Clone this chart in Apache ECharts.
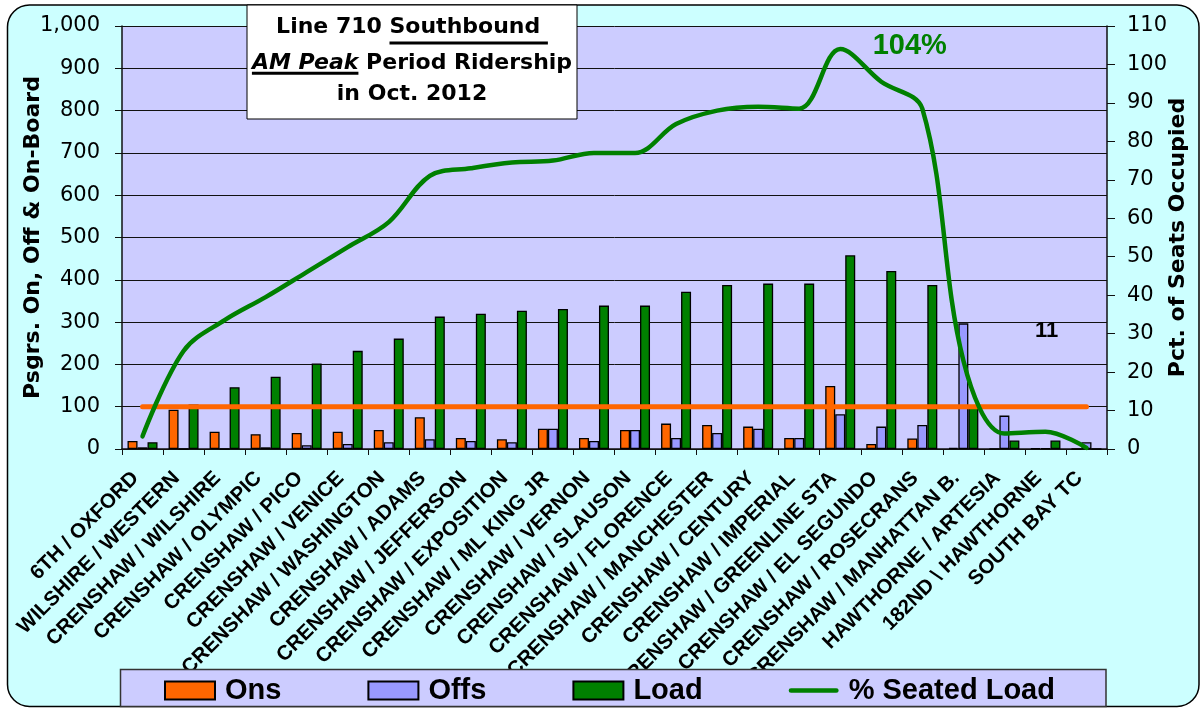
<!DOCTYPE html>
<html><head><meta charset="utf-8">
<script src="https://cdn.jsdelivr.net/npm/echarts/dist/echarts.min.js"></script>
<style>html,body{margin:0;padding:0;background:#fff}#c{width:1200px;height:708px}</style>
</head><body><div id="c"></div>
<script>
// ---------- data ----------
const categories = ['6TH / OXFORD','WILSHIRE / WESTERN','CRENSHAW / WILSHIRE','CRENSHAW / OLYMPIC','CRENSHAW / PICO','CRENSHAW / VENICE','CRENSHAW / WASHINGTON','CRENSHAW / ADAMS','CRENSHAW / JEFFERSON','CRENSHAW / EXPOSITION','CRENSHAW / ML KING JR','CRENSHAW / VERNON','CRENSHAW / SLAUSON','CRENSHAW / FLORENCE','CRENSHAW / MANCHESTER','CRENSHAW / CENTURY','CRENSHAW / IMPERIAL','CRENSHAW / GREENLINE STA','CRENSHAW / EL SEGUNDO','CRENSHAW / ROSECRANS','CRENSHAW / MANHATTAN B.','HAWTHORNE / ARTESIA','182ND \\ HAWTHORNE','SOUTH BAY TC'];
const ons  = [19, 93, 41, 35, 38, 41, 45, 75, 26, 23, 48, 26, 45, 60, 57, 53, 26, 149, 12, 25, 3, 0, 2, 0];
const offs = [4, 0, 0, 4, 9, 12, 16, 23, 19, 16, 48, 19, 45, 26, 38, 48, 26, 82, 53, 57, 297, 79, 2, 16];
const load = [16, 105, 146, 171, 202, 232, 261, 313, 320, 327, 331, 339, 339, 372, 388, 391, 391, 458, 421, 388, 100, 20, 20, 0];
const pctSeated = [3.3, 25.5, 33.5, 39.5, 46, 52.5, 59, 71, 73, 74.5, 75, 77, 77, 84.5, 88, 89, 88.5, 104, 95.5, 88.5, 23, 4, 4.5, 0.3];
const seatedCapacity = [100,100,100,100,100,100,100,100,100,100,100,100,100,100,100,100,100,100,100,100,100,100,100,100];
const leftAxis = {min: 0, max: 1000, interval: 100};
const rightAxis = {min: 0, max: 110, interval: 10};
const titleLines = [
  [{t: 'Line 710 '}, {t: 'Southbound ', u: true}],
  [{t: 'AM Peak', i: true, u: true}, {t: ' Period Ridership'}],
  [{t: 'in Oct. 2012'}]
];
const tripsNote = '11';

// ---------- helpers ----------
const mctx = document.createElement('canvas').getContext('2d');
const TF = 'bold 22px "DejaVu Sans"';
const TFI = 'italic bold 22px "DejaVu Sans"';
function tw(text, font) { mctx.font = font; return mctx.measureText(text).width; }

const titleBaselines = [35, 70.7, 101.7];
const underlineOffsets = [8, 2.5, 0];
const titleCx = 412;
const graphics = [];
// outer frame
graphics.push({type: 'rect', z: -10, shape: {x: 7.5, y: 5, width: 1191.5, height: 701.5, r: 22},
  style: {fill: '#CCFFFF', stroke: '#000', lineWidth: 1.5}, silent: true});
// title box
graphics.push({type: 'rect', z: 20, shape: {x: 247, y: 5, width: 330, height: 114},
  style: {fill: '#fff', stroke: '#000', lineWidth: 1}, silent: true});
titleLines.forEach((pieces, li) => {
  const widths = pieces.map(p => tw(p.t, p.i ? TFI : TF));
  const total = widths.reduce((a, b) => a + b, 0);
  let x = titleCx - total / 2;
  const base = titleBaselines[li];
  pieces.forEach((p, k) => {
    graphics.push({type: 'text', z: 21, silent: true,
      style: {x: x, y: base - 7.5, text: p.t, font: p.i ? TFI : TF, fill: '#000',
        align: 'left', verticalAlign: 'middle', textAlign: 'left', textVerticalAlign: 'middle'}});
    if (p.u) {
      graphics.push({type: 'line', z: 21, silent: true,
        shape: {x1: x, y1: base + underlineOffsets[li], x2: x + widths[k], y2: base + underlineOffsets[li]},
        style: {stroke: '#000', lineWidth: 3}});
    }
    x += widths[k];
  });
});
// note "11"
graphics.push({type: 'text', z: 21, silent: true,
  style: {x: 1035, y: 330.5, text: tripsNote, font: 'bold 22px "Liberation Sans"', fill: '#000',
    align: 'left', verticalAlign: 'middle', textAlign: 'left', textVerticalAlign: 'middle'}});
// legend box
graphics.push({type: 'rect', z: 30, shape: {x: 120.5, y: 669.5, width: 985.5, height: 37},
  style: {fill: '#CCCCFF', stroke: '#333', lineWidth: 1.5}, silent: true});

const chart = echarts.init(document.getElementById('c'), null, {renderer: 'canvas'});
const barBorder = {borderColor: '#000', borderWidth: 1.3};
chart.setOption({
  animation: false,
  backgroundColor: '#fff',
  grid: {left: 122, right: 93, top: 26, bottom: 259, show: true, backgroundColor: '#CCCCFF', borderWidth: 0, containLabel: false, outerBoundsMode: 'none'},
  legend: {
    data: [
      {name: 'Ons', icon: 'rect'},
      {name: 'Offs', icon: 'rect'},
      {name: 'Load', icon: 'rect'},
      {name: '% Seated Load', icon: 'path://M2,0 L50,0 A2.5,2.5 0 0 1 50,5 L2,5 A2.5,2.5 0 0 1 2,0 Z'}
    ],
    left: 164, top: 676, padding: 0, z: 40,
    itemWidth: 50, itemHeight: 18, itemGap: 86,
    textStyle: {fontFamily: 'Liberation Sans', fontWeight: 'bold', fontSize: 29, color: '#000', padding: [0, 0, 0, 5]}
  },
  xAxis: {
    type: 'category', data: categories,
    axisLine: {lineStyle: {color: '#111', width: 1.5}},
    axisTick: {show: true, length: 6, lineStyle: {color: '#111', width: 1}},
    axisLabel: {interval: 0, rotate: 45, margin: 19, padding: [0, 10, 0, 0], color: '#000', fontFamily: 'Liberation Sans', fontWeight: 'bold', fontSize: 20.5, hideOverlap: false},
    splitLine: {show: false}
  },
  yAxis: [{
    type: 'value', position: 'left', min: leftAxis.min, max: leftAxis.max, interval: leftAxis.interval,
    name: 'Psgrs. On, Off & On-Board', nameLocation: 'middle', nameGap: 78, nameMoveOverlap: false,
    nameTextStyle: {fontFamily: 'DejaVu Sans', fontWeight: 'bold', fontSize: 22, color: '#000'},
    axisLine: {show: true, lineStyle: {color: '#111', width: 1.5}},
    axisTick: {show: true, length: 7, lineStyle: {color: '#111'}},
    axisLabel: {margin: 22, color: '#000', fontFamily: 'DejaVu Sans', fontSize: 21, formatter: v => v.toLocaleString('en-US')},
    splitLine: {show: true, lineStyle: {color: '#111', width: 1}}
  }, {
    type: 'value', position: 'right', min: rightAxis.min, max: rightAxis.max, interval: rightAxis.interval,
    name: 'Pct. of Seats Occupied', nameLocation: 'middle', nameGap: 60, nameMoveOverlap: false,
    nameTextStyle: {fontFamily: 'DejaVu Sans', fontWeight: 'bold', fontSize: 22, color: '#000'},
    axisLine: {show: true, lineStyle: {color: '#111', width: 1.5}},
    axisTick: {show: true, length: 8, lineStyle: {color: '#111'}},
    axisLabel: {margin: 20, color: '#000', fontFamily: 'DejaVu Sans', fontSize: 21},
    splitLine: {show: false}
  }],
  series: [
    {name: 'Ons', type: 'bar', data: ons, barWidth: 10, barGap: '0%', itemStyle: Object.assign({color: '#FF6600'}, barBorder), z: 2},
    {name: 'Offs', type: 'bar', data: offs, barWidth: 10, barGap: '0%', itemStyle: Object.assign({color: '#9999FF'}, barBorder), z: 2},
    {name: 'Load', type: 'bar', data: load, barWidth: 10, barGap: '0%', itemStyle: Object.assign({color: '#008000'}, barBorder), z: 2},
    {name: 'Seated Capacity', type: 'line', data: seatedCapacity, yAxisIndex: 0, symbol: 'none', silent: true, z: 3,
      lineStyle: {color: '#FF6600', width: 5, cap: 'round'}, itemStyle: {color: '#FF6600'}},
    {name: '% Seated Load', type: 'line', data: pctSeated, yAxisIndex: 1, symbol: 'none', smooth: 0.35, z: 4,
      lineStyle: {color: '#008000', width: 4.5, cap: 'round', join: 'round'}, itemStyle: {color: '#008000'},
      markPoint: {symbol: 'circle', symbolSize: 1, itemStyle: {color: 'rgba(0,0,0,0)'}, silent: true,
        label: {show: true, position: 'right', distance: 32, offset: [0, -3], color: '#008000',
          fontFamily: 'Liberation Sans', fontWeight: 'bold', fontSize: 29, formatter: p => p.value + '%'},
        data: [{type: 'max'}]}}
  ],
  graphic: graphics
});
</script></body></html>
